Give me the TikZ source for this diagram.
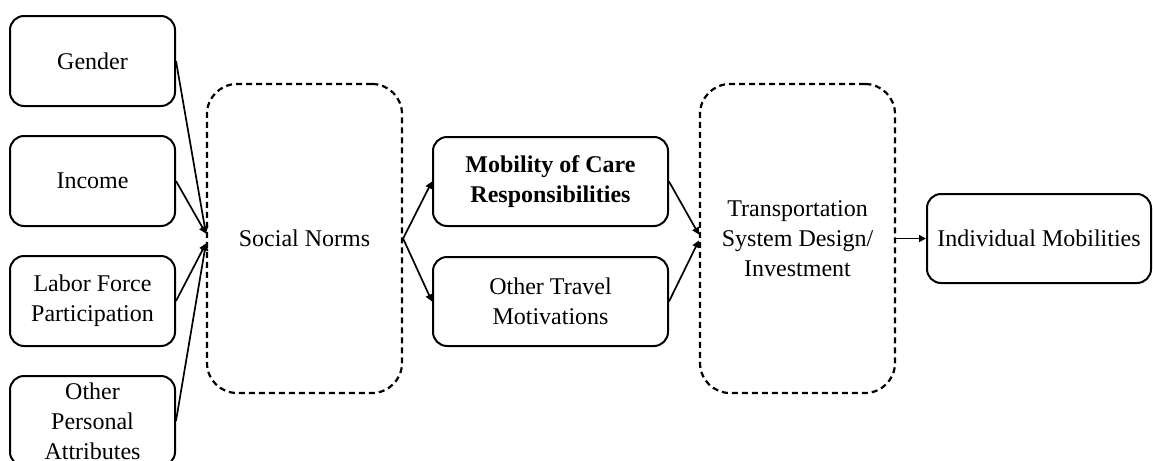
\documentclass[tikz,border=0pt]{standalone}
\usepackage{fontspec}
\setmainfont{Liberation Serif}
\usetikzlibrary{arrows.meta,calc}
\begin{document}
\begin{tikzpicture}[x=0.5pt,y=-0.5pt,
  txt/.style={align=center, font=\fontsize{12}{15}\selectfont, inner sep=0pt},
  solidbox/.style={txt, draw, line width=1pt, rounded corners=7pt},
  dashbox/.style={txt, draw, line width=1.1pt, dash pattern=on 3pt off 2pt,
    rounded corners=15pt, minimum width=97.5pt, minimum height=154.5pt},
  leftbox/.style={solidbox, minimum width=82.5pt, minimum height=45pt},
  midbox/.style={solidbox, minimum width=117.5pt, minimum height=44.5pt},
  link/.style={line width=0.85pt, -{Triangle[length=3.5pt,width=3.5pt]}}]
\useasboundingbox (0,0) rectangle (1153,461);
\clip (0,0) rectangle (1153,461);

% personal attributes
\node[leftbox] (gender) at (92.5,61) {Gender};
\node[leftbox] (income) at (92.5,181) {Income};
\node[leftbox] (labor)  at (92.5,301) {Labor Force\\Participation};
\node[leftbox] (other)  at (92.5,421) {Other\\Personal\\Attributes};

% social norms
\node[dashbox] (soc) at (304.5,238.5) {Social Norms};

% travel motivations
\node[midbox] (care)   at (550.5,181.5) {\textbf{Mobility of Care}\\\textbf{Responsibilities}};
\node[midbox] (travel) at (550.5,301.5) {Other Travel\\Motivations};

% transportation system
\node[dashbox] (tsd) at (797.5,238.5) {Transportation\\System Design/\\Investment};

% outcome
\node[solidbox, minimum width=112pt, minimum height=44.5pt] (ind) at (1039,238.5) {Individual Mobilities};

% arrow end points on the dashed boxes
\coordinate (socin1) at ($(soc.west)+(0,-5)$);
\coordinate (socin2) at ($(soc.west)+(0,5)$);
\coordinate (tsdin1) at ($(tsd.west)+(0,-4)$);
\coordinate (tsdin2) at ($(tsd.west)+(0,2)$);

\draw[link] (gender.east) -- (socin1);
\draw[link] (income.east) -- (socin1);
\draw[link] (labor.east)  -- (socin2);
\draw[link] (other.east)  -- (socin2);

\draw[link] (soc.east) -- (care.west);
\draw[link] (soc.east) -- (travel.west);

\draw[link] (care.east)   -- (tsdin1);
\draw[link] (travel.east) -- (tsdin2);

\draw[link] (tsd.east) -- (ind.west);
\end{tikzpicture}
\end{document}
